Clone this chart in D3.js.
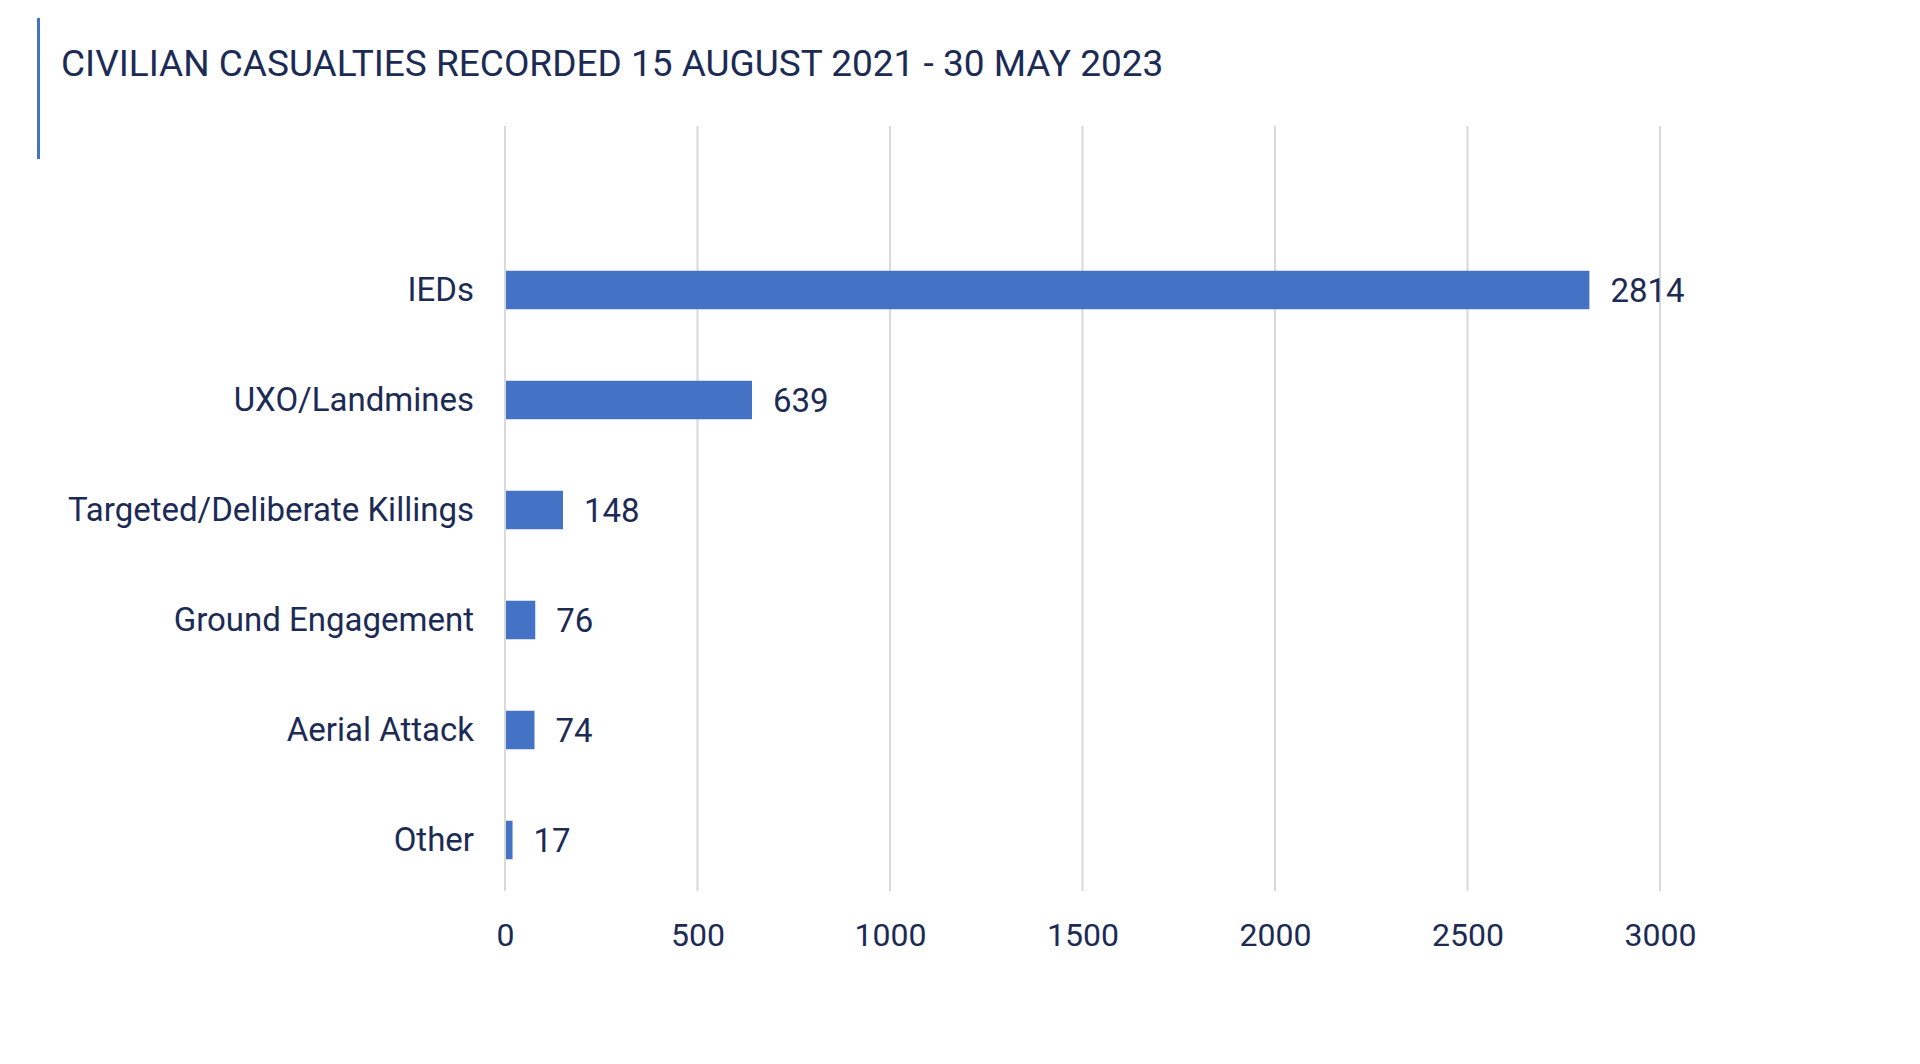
<!DOCTYPE html>
<html>
<head>
<meta charset="utf-8">
<script src="https://cdn.jsdelivr.net/npm/d3@7"></script>
<style>
  html, body { margin: 0; padding: 0; background: #ffffff; }
  svg { display: block; }
  text { font-family: Roboto, "Noto Sans", sans-serif; }
</style>
</head>
<body>
<svg id="chart" width="1920" height="1064"></svg>
<script>
const title = "CIVILIAN CASUALTIES RECORDED 15 AUGUST 2021 - 30 MAY 2023";
const categories = ["IEDs", "UXO/Landmines", "Targeted/Deliberate Killings", "Ground Engagement", "Aerial Attack", "Other"];
const values = [2814, 639, 148, 76, 74, 17];
const tickValues = [0, 500, 1000, 1500, 2000, 2500, 3000];

const W = 1920, H = 1064;
const textColor = "#1c2b55";
const barColor = "#4472c4";
const gridColor = "#d9d9d9";

const svg = d3.select("#chart");
svg.append("rect").attr("width", W).attr("height", H).attr("fill", "#fff");

// title + left accent bar
svg.append("rect").attr("x", 37).attr("y", 18).attr("width", 3).attr("height", 141).attr("fill", barColor);
svg.append("text").attr("x", 61).attr("y", 76)
  .attr("font-size", 37).attr("fill", textColor)
  .text(title);

const x = d3.scaleLinear().domain([0, 3000]).range([505, 1660]);
const y = d3.scaleBand().domain(categories).range([235, 895]).paddingInner(0.65).paddingOuter(0.325);

const gridTop = 126, gridBottom = 891;

// gridlines
svg.append("g").selectAll("line").data(tickValues).join("line")
  .attr("x1", d => x(d)).attr("x2", d => x(d))
  .attr("y1", gridTop).attr("y2", gridBottom)
  .attr("stroke", gridColor).attr("stroke-width", 2);

// x axis labels
const xAxis = d3.axisBottom(x).tickValues(tickValues).tickSize(0).tickPadding(0).tickFormat(d3.format("d"));
const gx = svg.append("g").attr("transform", `translate(0,${gridBottom})`).call(xAxis);
gx.select(".domain").remove();
gx.selectAll("text").attr("font-size", 32).attr("fill", textColor)
  .attr("y", 55).attr("dy", null);

// bars
const data = categories.map((c, i) => ({ c, v: values[i] }));
svg.append("g").selectAll("rect").data(data).join("rect")
  .attr("x", x(0) + 1)
  .attr("y", d => y(d.c))
  .attr("width", d => x(d.v) - x(0))
  .attr("height", y.bandwidth())
  .attr("fill", barColor);

// value labels
svg.append("g").selectAll("text").data(data).join("text")
  .attr("x", d => x(d.v) + 22)
  .attr("y", d => y(d.c) + y.bandwidth() / 2 + 12)
  .attr("font-size", 33).attr("fill", textColor)
  .text(d => d.v);

// category labels
const yAxis = d3.axisLeft(y).tickSize(0).tickPadding(31);
const gy = svg.append("g").attr("transform", `translate(${x(0)},0)`).call(yAxis);
gy.select(".domain").remove();
gy.selectAll("text").attr("font-size", 33).attr("fill", textColor).attr("font-family", "Roboto, sans-serif");
</script>
</body>
</html>
